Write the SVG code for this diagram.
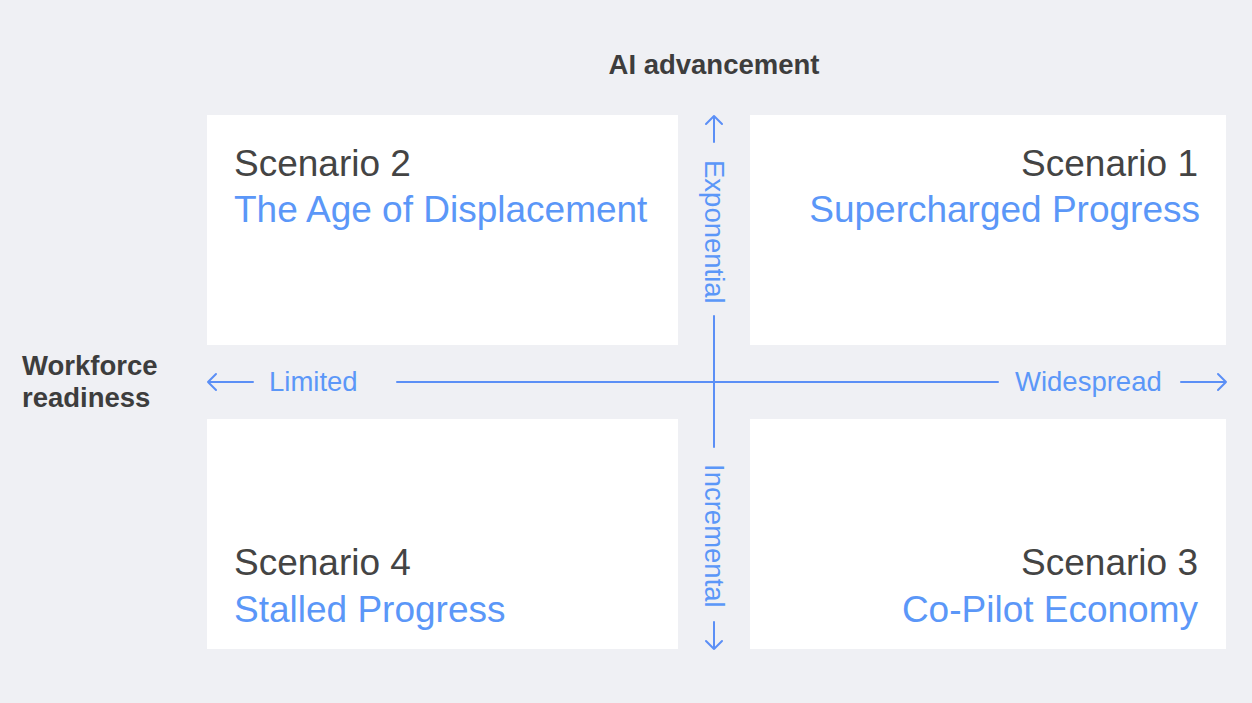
<svg xmlns="http://www.w3.org/2000/svg" width="1252" height="703" viewBox="0 0 1252 703">
<style>
.box{fill:#ffffff}
.t{font-family:"Liberation Sans",Arial,sans-serif;font-size:37px;fill:#444444}
.s{font-family:"Liberation Sans",Arial,sans-serif;font-size:37px;fill:#5b97f8}
.ax{font-family:"Liberation Sans",Arial,sans-serif;font-size:27.5px;fill:#5b97f8}
.h{font-family:"Liberation Sans",Arial,sans-serif;font-size:27.5px;font-weight:bold;fill:#3d3d3d}
.ln{stroke:#5b8ff6;stroke-width:2;fill:none;stroke-linecap:round;stroke-linejoin:round}
</style>
<rect width="1252" height="703" fill="#eff0f4"/>
<text class="h" x="714" y="74" text-anchor="middle">AI advancement</text>
<text class="h" x="22" y="375">Workforce</text>
<text class="h" x="22" y="407">readiness</text>
<g id="scenario2">
<rect class="box" x="207" y="115" width="471" height="230"/>
<text class="t" x="234" y="176">Scenario 2</text>
<text class="s" x="234" y="222">The Age of Displacement</text>
</g>
<g id="scenario1">
<rect class="box" x="750" y="115" width="476" height="230"/>
<text class="t" x="1198" y="176" text-anchor="end">Scenario 1</text>
<text class="s" x="1200" y="222" text-anchor="end">Supercharged Progress</text>
</g>
<g id="scenario4">
<rect class="box" x="207" y="419" width="471" height="230"/>
<text class="t" x="234" y="575">Scenario 4</text>
<text class="s" x="234" y="622">Stalled Progress</text>
</g>
<g id="scenario3">
<rect class="box" x="750" y="419" width="476" height="230"/>
<text class="t" x="1198" y="575" text-anchor="end">Scenario 3</text>
<text class="s" x="1198" y="622" text-anchor="end">Co-Pilot Economy</text>
</g>
<g id="axes">
<path class="ln" d="M714 116 V142 M706 124 L714 116 L722 124"/>
<path class="ln" d="M714 316 V447"/>
<path class="ln" d="M714 622 V649 M706 641 L714 649 L722 641"/>
<path class="ln" d="M208 382 H253 M216 374 L208 382 L216 390"/>
<path class="ln" d="M397 382 H998"/>
<path class="ln" d="M1181 382 H1226 M1218 374 L1226 382 L1218 390"/>
<text class="ax" x="269" y="391">Limited</text>
<text class="ax" x="1015" y="391">Widespread</text>
<text class="ax" transform="translate(705 160) rotate(90)">Exponential</text>
<text class="ax" transform="translate(705 464) rotate(90)">Incremental</text>
</g>
</svg>
